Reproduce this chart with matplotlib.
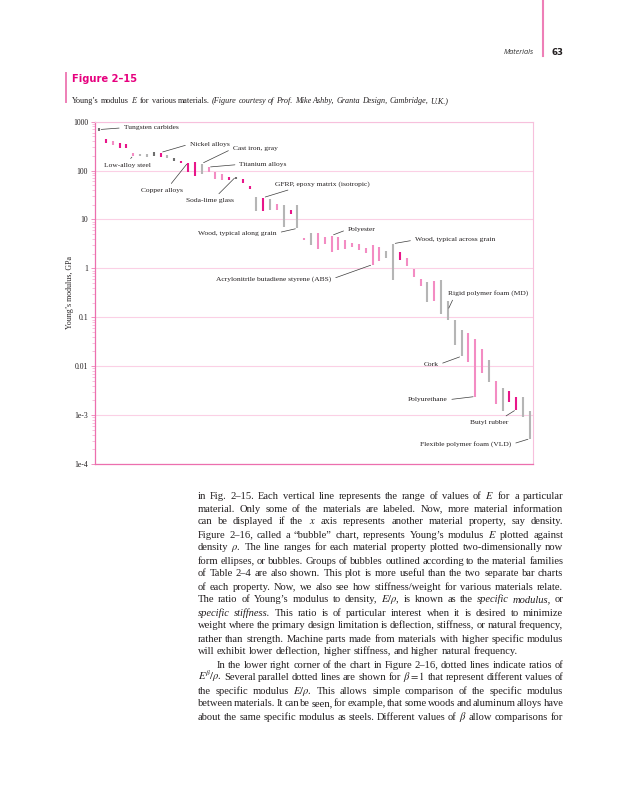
import matplotlib
matplotlib.use('Agg')
import matplotlib.pyplot as plt
from matplotlib.lines import Line2D
from matplotlib.ticker import LogLocator, NullFormatter
import numpy as np

plt.rcParams['font.family'] = ['Liberation Serif', 'DejaVu Serif']
plt.rcParams['mathtext.fontset'] = 'stix'

# Young's modulus range of each material (GPa), one vertical line each, left to right
e_low = [645, 370, 335, 290, 296, 203, 200, 194, 200, 189,
         180, 159, 143, 93, 77, 85, 93, 68, 65, 64,
         68, 57, 42, 15, 15, 16, 16, 7.1, 12.7, 6.6,
         3.8, 3.0, 2.5, 3.1, 2.2, 2.4, 2.5, 2.8, 2.4, 2.1,
         1.2, 1.4, 1.6, 0.57, 1.5, 1.1, 0.67, 0.44, 0.21, 0.22,
         0.116, 0.09, 0.027, 0.016, 0.012, 0.0024, 0.0072, 0.0048, 0.0017, 0.0012,
         0.00185, 0.0013, 0.0009, 0.00033]
e_high = [740, 440, 395, 375, 358, 229, 218, 223, 235, 234,
          208, 185, 159, 146, 153, 139, 118, 93, 84, 73,
          75, 66, 48, 29, 28, 26, 20.6, 20, 15.6, 20,
          4.2, 5.2, 5.2, 4.4, 4.7, 4.3, 3.8, 3.3, 3.1, 2.6,
          3.0, 2.8, 2.25, 3.2, 2.2, 1.6, 0.99, 0.60, 0.53, 0.55,
          0.57, 0.22, 0.09, 0.056, 0.048, 0.036, 0.023, 0.0137, 0.005, 0.0035,
          0.0031, 0.0024, 0.0024, 0.0012]
# m = magenta, p = pink, g = grey, d = dark grey
bar_kind = "dmpmmpggdm" "gdmmmgpppm" "dmmgmgpgmg" "pgpppppppp" \
           "ppggmpppgp" "ggggpppgpg" "mmgg"

tick_vals = [1e-4, 1e-3, 1e-2, 1e-1, 1, 10, 100, 1000]
tick_text = ['1e-4', '1e-3', '0.01', '0.1', '1', '10', '100', '1000']

# labelled materials: name, line index, end of line
labels = [
    ('Tungsten carbides', 0, 'mid'),
    ('Nickel alloys', 9, 'high'),
    ('Low-alloy steel', 5, 'low'),
    ('Cast iron, gray', 15, 'high'),
    ('Titanium alloys', 16, 'high'),
    ('Copper alloys', 13, 'high'),
    ('Soda-lime glass', 20, 'high'),
    ('GFRP, epoxy matrix (isotropic)', 24, 'high'),
    ('Wood, typical along grain', 29, 'low'),
    ('Polyester', 34, 'high'),
    ('Acrylonitrile butadiene styrene (ABS)', 40, 'low'),
    ('Wood, typical across grain', 43, 'high'),
    ('Rigid polymer foam (MD)', 51, 'mid'),
    ('Cork', 53, 'low'),
    ('Polyurethane', 55, 'low'),
    ('Butyl rubber', 61, 'low'),
    ('Flexible polymer foam (VLD)', 63, 'low'),
]
# where each label text sits relative to its line (points), and alignment
label_place = [
    (17.6, 1.3, 'left', 'center', (0, 0.5)),
    (20.9, 6.1, 'left', 'center', (0, 0.5)),
    (-4.5, -5.0, 'center', 'top', (0.5, 1)),
    (22.3, 10.8, 'left', 'center', (0, 0.5)),
    (22.2, 1.9, 'left', 'center', (0, 0.5)),
    (-18.9, -18.0, 'center', 'top', (0.65, 1)),
    (-18.5, -15.1, 'center', 'top', (0.6, 1)),
    (8.4, 7.8, 'left', 'bottom', (0.25, 0)),
    (-14.8, -3.4, 'right', 'center', (1, 0.5)),
    (11.7, 4.5, 'left', 'center', (0, 0.5)),
    (-29.7, -10.6, 'right', 'center', (1, 0.5)),
    (15.6, 2.7, 'left', 'center', (0, 0.5)),
    (0.2, 10.2, 'left', 'bottom', (0.08, 0)),
    (-16.7, -6.1, 'right', 'center', (1, 0.5)),
    (-20.0, -2.4, 'right', 'center', (1, 0.5)),
    (-19.8, -7.2, 'center', 'top', (0.8, 1)),
    (-13.3, -4.1, 'right', 'center', (1, 0.5)),
]

caption = ("Young’s modulus $E$ for various materials. *(Figure *courtesy *of *Prof. "
           "*Mike *Ashby, *Granta *Design, *Cambridge, *U.K.)")
body = [
    "in Fig. 2–15. Each vertical line represents the range of values of $E$ for a particular",
    "material. Only some of the materials are labeled. Now, more material information",
    "can be displayed if the $x$ axis represents another material property, say density.",
    "Figure 2–16, called a “bubble” chart, represents Young’s modulus $E$ plotted against",
    "density $\\rho$. The line ranges for each material property plotted two-dimensionally now",
    "form ellipses, or bubbles. Groups of bubbles outlined according to the material families",
    "of Table 2–4 are also shown. This plot is more useful than the two separate bar charts",
    "of each property. Now, we also see how stiffness/weight for various materials relate.",
    "The ratio of Young’s modulus to density, $E/\\rho$, is known as the *specific *modulus, or",
    "*specific *stiffness. This ratio is of particular interest when it is desired to minimize",
    "weight where the primary design limitation is deflection, stiffness, or natural frequency,",
    "rather than strength. Machine parts made from materials with higher specific modulus",
    "will exhibit lower deflection, higher stiffness, and higher natural frequency.",
    "In the lower right corner of the chart in Figure 2–16, dotted lines indicate ratios of",
    "$E^\\beta/\\rho$. Several parallel dotted lines are shown for $\\beta=1$ that represent different values of",
    "the specific modulus $E/\\rho$. This allows simple comparison of the specific modulus",
    "between materials. It can be seen, for example, that some woods and aluminum alloys have",
    "about the same specific modulus as steels. Different values of $\\beta$ allow comparisons for",
]

W, H = 626, 800
pink = '#e6007e'
fig = plt.figure(figsize=(W / 100, H / 100), dpi=100)
renderer = fig.canvas.get_renderer()


def put_line(line, x0, x1, base, size, justify):
    texts = []
    for tok in line.split(' '):
        style = 'normal'
        if tok.startswith('*'):
            tok, style = tok[1:], 'italic'
        texts.append(fig.text(0, 1 - base / H, tok, fontsize=size, style=style,
                              ha='left', va='baseline', color='#231f20'))
    widths = [t.get_window_extent(renderer).width for t in texts]
    gap = size * 0.25 * 100 / 72
    if justify and len(texts) > 1:
        gap = (x1 - x0 - sum(widths)) / (len(texts) - 1)
    x = x0
    for t, w in zip(texts, widths):
        t.set_x(x / W)
        x += w + gap


# page header
fig.text(534 / W, 1 - 52.5 / H, 'Materials', family='Open Sans', style='italic',
         fontsize=5.3, color='#333333', ha='right', va='center')
fig.add_artist(Line2D([543 / W] * 2, [1, 1 - 56 / H], color='#ee7fb7', lw=1.5))
fig.text(551 / W, 1 - 52.5 / H, '63', family='DejaVu Sans', fontweight='bold',
         fontsize=6.2, color='#231f20', ha='left', va='center')

# figure number and caption
fig.add_artist(Line2D([65.7 / W] * 2, [1 - 73 / H, 1 - 102 / H], color='#ee7fb7', lw=1.4))
fig.text(72.3 / W, 1 - 79.5 / H, 'Figure 2–15', family='DejaVu Sans', fontweight='bold',
         fontsize=7.1, color=pink, ha='left', va='center')
put_line(caption, 72.3, 460, 103, 5.85, False)

# chart
ax = fig.add_axes([95 / W, 1 - 464 / H, 438 / W, 342.3 / H])
colors = {'m': '#e8168a', 'p': '#f38cc3', 'g': '#b5b5b5', 'd': '#6e6e6e'}
x = np.arange(len(e_low))
ax.vlines(x, e_low, e_high, colors=[colors[k] for k in bar_kind], lw=1.5)
ax.set_yscale('log')
ax.set_ylim(1e-4, 1e3)
ax.set_xlim(-0.6, 63.45)
ax.set_xticks([])
ax.set_yticks(tick_vals)
ax.set_yticklabels(tick_text)
ax.yaxis.set_minor_locator(LogLocator(base=10, subs=np.arange(2, 10)))
ax.yaxis.set_minor_formatter(NullFormatter())
ax.tick_params(axis='y', which='major', direction='out', length=3, width=0.6,
               color='#ee7fb7', labelsize=5.6, pad=2, labelcolor='#231f20')
ax.tick_params(axis='y', which='minor', direction='out', length=2, width=0.5,
               color='#f4a6cd')
ax.grid(axis='y', which='major', color='#fbd0e5', lw=0.8)
ax.set_axisbelow(True)
for side in ['left', 'bottom']:
    ax.spines[side].set_color('#ec6fae')
    ax.spines[side].set_linewidth(0.9)
for side in ['top', 'right']:
    ax.spines[side].set_color('#f7c0dc')
    ax.spines[side].set_linewidth(0.8)
ax.set_ylabel('Young’s modulus, GPa', fontsize=5.7, color='#231f20')
ax.yaxis.set_label_coords(-0.049, 0.5)

for (name, i, end), (dx, dy, ha, va, rp) in zip(labels, label_place):
    if end == 'high':
        yv = e_high[i]
    elif end == 'low':
        yv = e_low[i]
    else:
        yv = np.sqrt(e_low[i] * e_high[i])
    ax.annotate(name, xy=(i, yv), xytext=(dx, dy), textcoords='offset points',
                ha=ha, va=va, fontsize=5.4, color='#231f20',
                arrowprops=dict(arrowstyle='-', color='#3c3c3c', lw=0.5,
                                shrinkA=1.2, shrinkB=1.5, relpos=rp))

# running text below the figure
for k, line in enumerate(body):
    x0 = 216.7 if k == 13 else 197.7
    put_line(line, x0, 563.3, 498.5 + 13.0 * k, 7.6, k != 12)

fig.savefig('out.png', dpi=100)
